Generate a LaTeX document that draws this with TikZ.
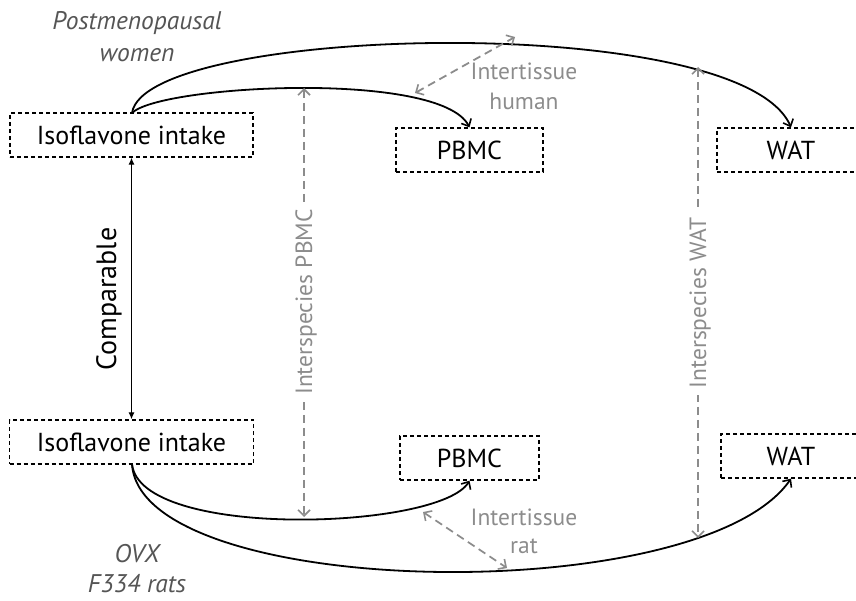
\documentclass[tikz,border=0pt]{standalone}
\usepackage{fontspec}
\setmainfont{PT Sans}
\usetikzlibrary{arrows.meta}
\definecolor{lgrey}{HTML}{8C8C8C}
\definecolor{dgrey}{HTML}{555555}
\tikzset{
  box/.style={draw, dashed, dash pattern=on 4pt off 3pt, line width=1.3pt, minimum height=44pt, inner sep=0pt, font=\fontsize{26}{30}\selectfont},
  flow/.style={line width=1.8pt, -{Straight Barb[length=6pt,width=11pt,line width=1.6pt]}},
  inter/.style={lgrey, line width=1.8pt, dash pattern=on 8pt off 5pt, {Straight Barb[length=6pt,width=12pt,line width=1.6pt]}-{Straight Barb[length=6pt,width=12pt,line width=1.6pt]}},
  glabel/.style={lgrey, font=\fontsize{23.5}{29}\selectfont, anchor=base, inner sep=0pt},
  vlabel/.style={lgrey, font=\fontsize{23.5}{29}\selectfont, anchor=base, rotate=90, fill=white, inner sep=7pt},
  ilabel/.style={dgrey, font=\itshape\fontsize{25.5}{31}\selectfont, anchor=base, inner sep=0pt},
}
\begin{document}
\begin{tikzpicture}[x=1pt,y=-1pt]
\useasboundingbox (0,0) rectangle (856,601);
\begin{scope}
\clip (0,0) rectangle (856,601);
% boxes
\node[box, minimum width=243pt] (iso1) at (131.5,135) {Isoflavone intake};
\node[box, minimum width=147pt] (pbmc1) at (469.5,150) {PBMC};
\node[box, minimum width=148pt] (wat1) at (791,150) {WAT};
\node[box, minimum width=244pt] (iso2) at (131.5,442) {Isoflavone intake};
\node[box, minimum width=139pt] (pbmc2) at (469.5,458) {PBMC};
\node[box, minimum width=140pt] (wat2) at (791,456) {WAT};
\end{scope}
% italic labels
\node[ilabel] (pw1) at (137,30) {Postmenopausal};
\node[ilabel] (pw2) at (137,62) {women};
\node[ilabel] (ovx1) at (137,562) {OVX};
\node[ilabel] (ovx2) at (137,592) {F334 rats};
% comparable
\draw[line width=1.2pt, {Latex[length=7pt,width=6pt]}-{Latex[length=7pt,width=6pt]}] (iso1.south) -- (iso2.north);
\node[rotate=90, anchor=base, inner sep=0pt, font=\fontsize{28}{32}\selectfont] (cmp) at (116,299) {Comparable};
% flows
\coordinate (s1) at (132,113);
\coordinate (s2) at (132,464);
\draw[flow] (s1) .. controls (145,25) and (740,10) .. (wat1.north);
\draw[flow] (s1) .. controls (160,85) and (440,70) .. (pbmc1.north);
\draw[flow] (s2) .. controls (140,540) and (440,530) .. (pbmc2.south);
\draw[flow] (s2) .. controls (140,600) and (700,610) .. (wat2.south);
% interspecies
\coordinate (ip1) at (304,88);
\coordinate (ip2) at (304,517);
\coordinate (iw1) at (698,67);
\coordinate (iw2) at (698,538);
\draw[inter] (ip1) -- (ip2);
\draw[inter] (iw1) -- (iw2);
\node[vlabel] (ipl) at (312,302) {Interspecies PBMC};
\node[vlabel] (iwl) at (706,303) {Interspecies WAT};
% intertissue
\coordinate (ih1) at (415,93);
\coordinate (ih2) at (515,37);
\coordinate (ir1) at (423,512);
\coordinate (ir2) at (507,568);
\draw[inter] (ih1) -- (ih2);
\draw[inter] (ir1) -- (ir2);
\node[glabel] (ihl1) at (524,80) {Intertissue};
\node[glabel] (ihl2) at (524,110) {human};
\node[glabel] (irl1) at (524,525) {Intertissue};
\node[glabel] (irl2) at (524,553) {rat};
\end{tikzpicture}
\end{document}
